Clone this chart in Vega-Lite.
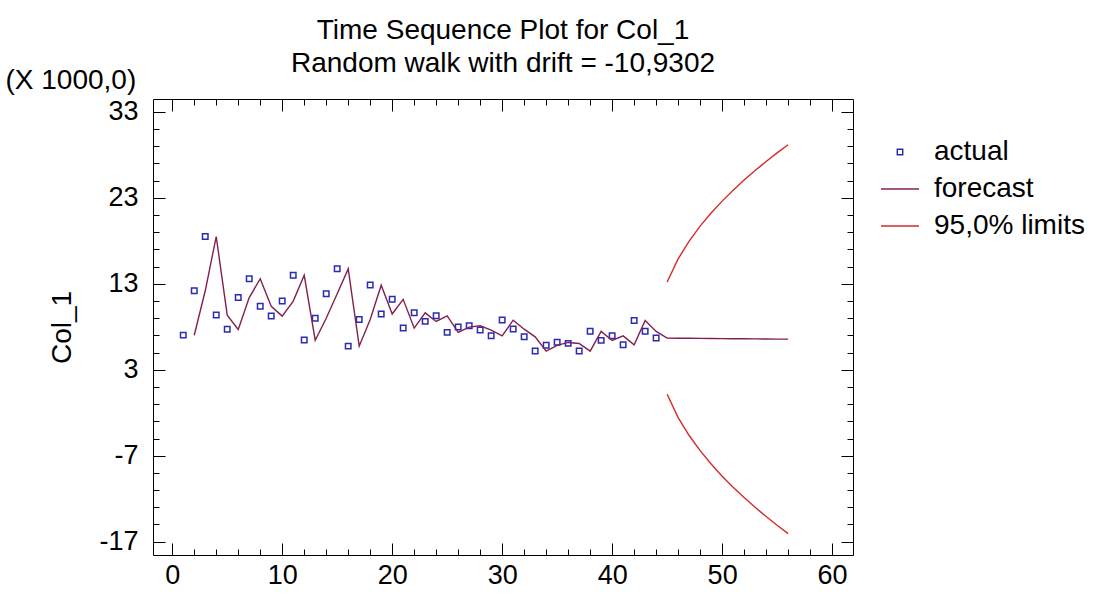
{
  "$schema": "https://vega.github.io/schema/vega-lite/v6.json",
  "width": 700,
  "height": 456,
  "autosize": {"type": "none"},
  "padding": {"left": 153, "top": 99, "right": 247, "bottom": 41},
  "background": "white",
  "title": {
    "text": "Time Sequence Plot for Col_1",
    "subtitle": "Random walk with drift = -10,9302",
    "anchor": "middle",
    "frame": "group",
    "font": "Liberation Sans",
    "fontSize": 28,
    "fontWeight": "normal",
    "color": "black",
    "subtitleFont": "Liberation Sans",
    "subtitleFontSize": 28,
    "subtitleColor": "black",
    "subtitlePadding": 5,
    "offset": -12
  },
  "config": {
    "view": {"stroke": "black", "strokeWidth": 1},
    "axis": {
      "domain": false,
      "grid": false,
      "tickColor": "black",
      "tickWidth": 1,
      "labelFont": "Liberation Sans",
      "labelFontSize": 27,
      "labelColor": "black",
      "titleFont": "Liberation Sans",
      "titleColor": "black",
      "titleFontWeight": "normal"
    },
    "legend": {
      "orient": "none", "legendX": 727, "legendY": 39, "title": null, "padding": 0,
      "labelFontSize": 28, "labelFont": "Liberation Sans", "labelColor": "black",
      "labelOffset": 14, "rowPadding": 3, "symbolStrokeWidth": 1.4
    }
  },
  "data": {
    "values": [
      {"t": 1, "v": 7.03, "s": "actual"},
      {"t": 2, "v": 12.2, "s": "actual"},
      {"t": 3, "v": 18.5, "s": "actual"},
      {"t": 4, "v": 9.36, "s": "actual"},
      {"t": 5, "v": 7.7, "s": "actual"},
      {"t": 6, "v": 11.4, "s": "actual"},
      {"t": 7, "v": 13.6, "s": "actual"},
      {"t": 8, "v": 10.4, "s": "actual"},
      {"t": 9, "v": 9.25, "s": "actual"},
      {"t": 10, "v": 11.0, "s": "actual"},
      {"t": 11, "v": 14.0, "s": "actual"},
      {"t": 12, "v": 6.45, "s": "actual"},
      {"t": 13, "v": 9.0, "s": "actual"},
      {"t": 14, "v": 11.85, "s": "actual"},
      {"t": 15, "v": 14.75, "s": "actual"},
      {"t": 16, "v": 5.75, "s": "actual"},
      {"t": 17, "v": 8.86, "s": "actual"},
      {"t": 18, "v": 12.85, "s": "actual"},
      {"t": 19, "v": 9.5, "s": "actual"},
      {"t": 20, "v": 11.2, "s": "actual"},
      {"t": 21, "v": 7.85, "s": "actual"},
      {"t": 22, "v": 9.63, "s": "actual"},
      {"t": 23, "v": 8.63, "s": "actual"},
      {"t": 24, "v": 9.28, "s": "actual"},
      {"t": 25, "v": 7.35, "s": "actual"},
      {"t": 26, "v": 7.97, "s": "actual"},
      {"t": 27, "v": 8.12, "s": "actual"},
      {"t": 28, "v": 7.62, "s": "actual"},
      {"t": 29, "v": 6.95, "s": "actual"},
      {"t": 30, "v": 8.78, "s": "actual"},
      {"t": 31, "v": 7.73, "s": "actual"},
      {"t": 32, "v": 6.84, "s": "actual"},
      {"t": 33, "v": 5.17, "s": "actual"},
      {"t": 34, "v": 5.84, "s": "actual"},
      {"t": 35, "v": 6.19, "s": "actual"},
      {"t": 36, "v": 6.07, "s": "actual"},
      {"t": 37, "v": 5.17, "s": "actual"},
      {"t": 38, "v": 7.47, "s": "actual"},
      {"t": 39, "v": 6.42, "s": "actual"},
      {"t": 40, "v": 6.95, "s": "actual"},
      {"t": 41, "v": 5.91, "s": "actual"},
      {"t": 42, "v": 8.74, "s": "actual"},
      {"t": 43, "v": 7.47, "s": "actual"},
      {"t": 44, "v": 6.69, "s": "actual"},
      {"t": 2, "v": 7.02, "s": "forecast"},
      {"t": 3, "v": 12.19, "s": "forecast"},
      {"t": 4, "v": 18.49, "s": "forecast"},
      {"t": 5, "v": 9.35, "s": "forecast"},
      {"t": 6, "v": 7.69, "s": "forecast"},
      {"t": 7, "v": 11.39, "s": "forecast"},
      {"t": 8, "v": 13.59, "s": "forecast"},
      {"t": 9, "v": 10.39, "s": "forecast"},
      {"t": 10, "v": 9.24, "s": "forecast"},
      {"t": 11, "v": 10.99, "s": "forecast"},
      {"t": 12, "v": 13.99, "s": "forecast"},
      {"t": 13, "v": 6.44, "s": "forecast"},
      {"t": 14, "v": 8.99, "s": "forecast"},
      {"t": 15, "v": 11.84, "s": "forecast"},
      {"t": 16, "v": 14.74, "s": "forecast"},
      {"t": 17, "v": 5.74, "s": "forecast"},
      {"t": 18, "v": 8.85, "s": "forecast"},
      {"t": 19, "v": 12.84, "s": "forecast"},
      {"t": 20, "v": 9.49, "s": "forecast"},
      {"t": 21, "v": 11.19, "s": "forecast"},
      {"t": 22, "v": 7.84, "s": "forecast"},
      {"t": 23, "v": 9.62, "s": "forecast"},
      {"t": 24, "v": 8.62, "s": "forecast"},
      {"t": 25, "v": 9.27, "s": "forecast"},
      {"t": 26, "v": 7.34, "s": "forecast"},
      {"t": 27, "v": 7.96, "s": "forecast"},
      {"t": 28, "v": 8.11, "s": "forecast"},
      {"t": 29, "v": 7.61, "s": "forecast"},
      {"t": 30, "v": 6.94, "s": "forecast"},
      {"t": 31, "v": 8.77, "s": "forecast"},
      {"t": 32, "v": 7.72, "s": "forecast"},
      {"t": 33, "v": 6.83, "s": "forecast"},
      {"t": 34, "v": 5.16, "s": "forecast"},
      {"t": 35, "v": 5.83, "s": "forecast"},
      {"t": 36, "v": 6.18, "s": "forecast"},
      {"t": 37, "v": 6.06, "s": "forecast"},
      {"t": 38, "v": 5.16, "s": "forecast"},
      {"t": 39, "v": 7.46, "s": "forecast"},
      {"t": 40, "v": 6.41, "s": "forecast"},
      {"t": 41, "v": 6.94, "s": "forecast"},
      {"t": 42, "v": 5.9, "s": "forecast"},
      {"t": 43, "v": 8.73, "s": "forecast"},
      {"t": 44, "v": 7.46, "s": "forecast"},
      {"t": 45, "v": 6.68, "s": "forecast"},
      {"t": 46, "v": 6.67, "s": "forecast"},
      {"t": 47, "v": 6.66, "s": "forecast"},
      {"t": 48, "v": 6.65, "s": "forecast"},
      {"t": 49, "v": 6.64, "s": "forecast"},
      {"t": 50, "v": 6.62, "s": "forecast"},
      {"t": 51, "v": 6.61, "s": "forecast"},
      {"t": 52, "v": 6.6, "s": "forecast"},
      {"t": 53, "v": 6.59, "s": "forecast"},
      {"t": 54, "v": 6.58, "s": "forecast"},
      {"t": 55, "v": 6.57, "s": "forecast"},
      {"t": 56, "v": 6.56, "s": "forecast"},
      {"t": 45, "v": 13.21, "s": "95,0% limits", "b": "upper"},
      {"t": 46, "v": 15.9, "s": "95,0% limits", "b": "upper"},
      {"t": 47, "v": 17.97, "s": "95,0% limits", "b": "upper"},
      {"t": 48, "v": 19.71, "s": "95,0% limits", "b": "upper"},
      {"t": 49, "v": 21.24, "s": "95,0% limits", "b": "upper"},
      {"t": 50, "v": 22.62, "s": "95,0% limits", "b": "upper"},
      {"t": 51, "v": 23.89, "s": "95,0% limits", "b": "upper"},
      {"t": 52, "v": 25.07, "s": "95,0% limits", "b": "upper"},
      {"t": 53, "v": 26.18, "s": "95,0% limits", "b": "upper"},
      {"t": 54, "v": 27.23, "s": "95,0% limits", "b": "upper"},
      {"t": 55, "v": 28.23, "s": "95,0% limits", "b": "upper"},
      {"t": 56, "v": 29.18, "s": "95,0% limits", "b": "upper"},
      {"t": 45, "v": 0.15, "s": "95,0% limits", "b": "lower"},
      {"t": 46, "v": -2.57, "s": "95,0% limits", "b": "lower"},
      {"t": 47, "v": -4.65, "s": "95,0% limits", "b": "lower"},
      {"t": 48, "v": -6.41, "s": "95,0% limits", "b": "lower"},
      {"t": 49, "v": -7.96, "s": "95,0% limits", "b": "lower"},
      {"t": 50, "v": -9.38, "s": "95,0% limits", "b": "lower"},
      {"t": 51, "v": -10.67, "s": "95,0% limits", "b": "lower"},
      {"t": 52, "v": -11.87, "s": "95,0% limits", "b": "lower"},
      {"t": 53, "v": -13.0, "s": "95,0% limits", "b": "lower"},
      {"t": 54, "v": -14.07, "s": "95,0% limits", "b": "lower"},
      {"t": 55, "v": -15.09, "s": "95,0% limits", "b": "lower"},
      {"t": 56, "v": -16.06, "s": "95,0% limits", "b": "lower"}
    ]
  },
  "resolve": {"axis": {"x": "independent", "y": "independent"}},
  "layer": [
    {
      "transform": [{"filter": "datum.s === 'actual'"}],
      "mark": {"type": "point", "filled": false, "strokeWidth": 1.5, "opacity": 1},
      "encoding": {
        "x": {"field": "t", "type": "quantitative",
          "scale": {"domain": [-1.75, 61.9], "nice": false, "zero": false},
          "axis": {"orient": "bottom", "values": [0, 10, 20, 30, 40, 50, 60], "tickSize": -12, "labelPadding": 19, "labelFlush": false, "labelOverlap": false, "title": null}},
        "y": {"field": "v", "type": "quantitative",
          "scale": {"domain": [-18.55, 34.5], "nice": false, "zero": false},
          "axis": {"orient": "left", "values": [-17, -7, 3, 13, 23, 33], "tickSize": -12, "labelPadding": 27, "labelFlush": false, "labelOverlap": false,
            "labelExpr": "datum.value < 0 ? '-' + abs(datum.value) : '' + datum.value",
            "title": "Col_1", "titleX": -91, "titleY": 228, "titleAngle": -90, "titleBaseline": "middle", "titleAlign": "center", "titleFontSize": 28}},
        "color": {"field": "s", "type": "nominal",
          "scale": {"domain": ["actual", "forecast", "95,0% limits"], "range": ["#2a2ab4", "#822050", "#d62a2a"]}},
        "shape": {"field": "s", "type": "nominal",
          "scale": {"domain": ["actual", "forecast", "95,0% limits"], "range": ["square", "stroke", "stroke"]}},
        "size": {"field": "s", "type": "nominal",
          "scale": {"type": "ordinal", "domain": ["actual", "forecast", "95,0% limits"], "range": [30, 1444, 1444]}}
      }
    },
    {
      "transform": [{"filter": "datum.s === 'forecast'"}],
      "mark": {"type": "line", "strokeWidth": 1.4},
      "encoding": {
        "x": {"field": "t", "type": "quantitative",
          "axis": {"orient": "bottom", "values": [0, 2, 4, 6, 8, 10, 12, 14, 16, 18, 20, 22, 24, 26, 28, 30, 32, 34, 36, 38, 40, 42, 44, 46, 48, 50, 52, 54, 56, 58, 60], "tickSize": -6, "labels": false, "title": null}},
        "y": {"field": "v", "type": "quantitative",
          "axis": {"orient": "left", "values": [-17, -15, -13, -11, -9, -7, -5, -3, -1, 1, 3, 5, 7, 9, 11, 13, 15, 17, 19, 21, 23, 25, 27, 29, 31, 33], "tickSize": -6, "labels": false,
            "title": "(X 1000,0)", "titleAngle": 0, "titleX": -148, "titleY": -19, "titleAlign": "left", "titleBaseline": "middle", "titleFontSize": 28}},
        "color": {"field": "s", "type": "nominal"}
      }
    },
    {
      "transform": [{"filter": "datum.b === 'upper'"}],
      "mark": {"type": "line", "strokeWidth": 1.4},
      "encoding": {
        "x": {"field": "t", "type": "quantitative",
          "axis": {"orient": "top", "values": [0, 10, 20, 30, 40, 50, 60], "tickSize": -12, "labels": false, "title": null}},
        "y": {"field": "v", "type": "quantitative",
          "axis": {"orient": "right", "values": [-17, -7, 3, 13, 23, 33], "tickSize": -12, "labels": false, "title": null}},
        "color": {"field": "s", "type": "nominal"}
      }
    },
    {
      "transform": [{"filter": "datum.b === 'lower'"}],
      "mark": {"type": "line", "strokeWidth": 1.4},
      "encoding": {
        "x": {"field": "t", "type": "quantitative",
          "axis": {"orient": "top", "values": [0, 2, 4, 6, 8, 10, 12, 14, 16, 18, 20, 22, 24, 26, 28, 30, 32, 34, 36, 38, 40, 42, 44, 46, 48, 50, 52, 54, 56, 58, 60], "tickSize": -6, "labels": false, "title": null}},
        "y": {"field": "v", "type": "quantitative",
          "axis": {"orient": "right", "values": [-17, -15, -13, -11, -9, -7, -5, -3, -1, 1, 3, 5, 7, 9, 11, 13, 15, 17, 19, 21, 23, 25, 27, 29, 31, 33], "tickSize": -6, "labels": false, "title": null}},
        "color": {"field": "s", "type": "nominal"}
      }
    }
  ]
}
